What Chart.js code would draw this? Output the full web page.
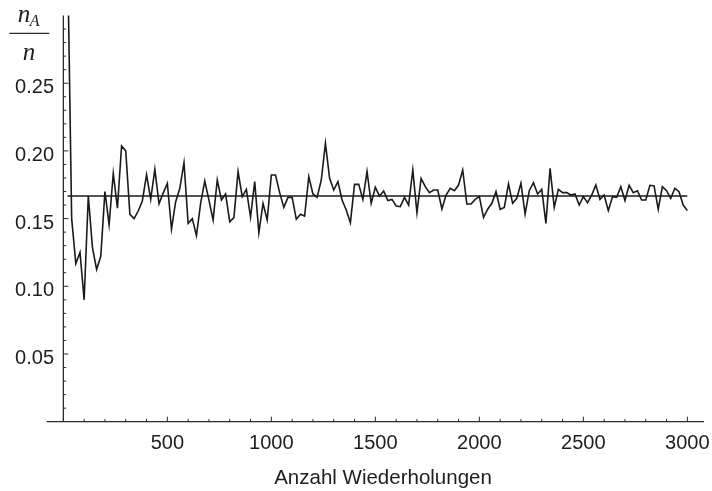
<!DOCTYPE html>
<html>
<head>
<meta charset="utf-8">
<script src="https://cdn.jsdelivr.net/npm/chart.js@4/dist/chart.umd.min.js"></script>
<style>
  html, body { margin: 0; padding: 0; background: #fff; }
  #wrap { width: 712px; height: 491px; }
</style>
</head>
<body>
<div id="wrap"><canvas id="c" width="712" height="491"></canvas></div>
<script>
// Number of repetitions (x categories)
const repetitions = [
  20,40,60,80,100,120,140,160,180,200,220,240,260,280,300,320,340,360,380,400,
  420,440,460,480,500,520,540,560,580,600,620,640,660,680,700,720,740,760,780,800,
  820,840,860,880,900,920,940,960,980,1000,1020,1040,1060,1080,1100,1120,1140,1160,1180,1200,
  1220,1240,1260,1280,1300,1320,1340,1360,1380,1400,1420,1440,1460,1480,1500,1520,1540,1560,1580,1600,
  1620,1640,1660,1680,1700,1720,1740,1760,1780,1800,1820,1840,1860,1880,1900,1920,1940,1960,1980,2000,
  2020,2040,2060,2080,2100,2120,2140,2160,2180,2200,2220,2240,2260,2280,2300,2320,2340,2360,2380,2400,
  2420,2440,2460,2480,2500,2520,2540,2560,2580,2600,2620,2640,2660,2680,2700,2720,2740,2760,2780,2800,
  2820,2840,2860,2880,2900,2920,2940,2960,2980,3000
];
// Relative frequency n_A / n
const relFrequency = [
  0.35,0.150,0.1167,0.125,0.090,0.1667,0.1286,0.1125,0.1222,0.170,
  0.1455,0.1833,0.1577,0.2036,0.200,0.1531,0.150,0.1556,0.1632,0.1825,
  0.1643,0.1864,0.1609,0.1688,0.176,0.1423,0.1625,0.1724,0.1913,0.1465,
  0.150,0.1374,0.1613,0.1778,0.1637,0.149,0.1785,0.1637,0.1682,0.1477,
  0.1507,0.1847,0.1662,0.1716,0.151,0.1773,0.1396,0.1613,0.149,0.1822,
  0.1822,0.1692,0.1583,0.1657,0.1657,0.1495,0.1532,0.1519,0.181,0.1682,
  0.1657,0.1785,0.2056,0.1797,0.1711,0.1773,0.1637,0.1564,0.147,0.1753,
  0.1753,0.1642,0.1847,0.1613,0.1731,0.1667,0.1704,0.1633,0.1642,0.1593,
  0.1588,0.1657,0.160,0.1859,0.1544,0.1797,0.1736,0.1692,0.1711,0.1711,
  0.1571,0.1674,0.1724,0.1706,0.1748,0.1859,0.1608,0.1608,0.1642,0.1662,
  0.1509,0.1569,0.1613,0.1699,0.1569,0.1583,0.1756,0.1613,0.165,0.1761,
  0.1534,0.1706,0.1765,0.1682,0.1716,0.1465,0.1871,0.1583,0.1716,0.1692,
  0.1692,0.1674,0.1682,0.160,0.1662,0.1618,0.1674,0.1748,0.1642,0.1674,
  0.1559,0.1662,0.1657,0.1736,0.1633,0.1746,0.1692,0.1706,0.1637,0.1637,
  0.1746,0.1741,0.1569,0.1736,0.1706,0.165,0.1724,0.1699,0.160,0.1559
];
// Theoretical probability line
const theoryX = [20, 3000];
const theoryY = [1/6, 1/6];

const xTickValues = [500, 1000, 1500, 2000, 2500, 3000];
const xTickLabels = ['500', '1000', '1500', '2000', '2500', '3000'];
const yTickValues = [0.05, 0.10, 0.15, 0.20, 0.25];
const yTickLabels = ['0.05', '0.10', '0.15', '0.20', '0.25'];
const xTitle = 'Anzahl Wiederholungen';

const axesPlugin = {
  id: 'mathAxes',
  beforeDatasetsDraw(chart) {
    const { ctx, chartArea: a, scales: { x, y } } = chart;
    const x0 = x.getPixelForValue(0);
    const y0 = y.getPixelForValue(0);
    const seg = (x1, y1, x2, y2) => { ctx.beginPath(); ctx.moveTo(x1, y1); ctx.lineTo(x2, y2); ctx.stroke(); };
    ctx.save();
    ctx.strokeStyle = '#2a2a2a';
    ctx.lineWidth = 1.3;
    seg(a.left, y0, a.right, y0);
    seg(x0, a.top, x0, y0);
    ctx.lineWidth = 1;
    for (let v = 100; v <= 3000; v += 100) {
      const px = x.getPixelForValue(v);
      const len = v % 500 === 0 ? 5 : 2.8;
      seg(px, y0, px, y0 - len);
    }
    for (let i = 1; i < 30; i++) {
      const py = y.getPixelForValue(i / 100);
      const len = i % 5 === 0 ? 5 : 2.8;
      seg(x0, py, x0 + len, py);
    }
    ctx.fillStyle = '#1e1e1e';
    ctx.font = '20px "Liberation Sans", Arial, sans-serif';
    ctx.textAlign = 'center';
    ctx.textBaseline = 'alphabetic';
    xTickValues.forEach((v, i) => ctx.fillText(xTickLabels[i], x.getPixelForValue(v), y0 + 27.6));
    ctx.textAlign = 'right';
    yTickValues.forEach((v, i) => ctx.fillText(yTickLabels[i], x0 - 9.3, y.getPixelForValue(v) + 10));
    ctx.textAlign = 'center';
    ctx.font = '20.5px "Liberation Sans", Arial, sans-serif';
    ctx.fillText(xTitle, 383, 484);
    // y label: n_A / n
    ctx.font = 'italic 25px "Liberation Serif", serif';
    const wn = ctx.measureText('n').width;
    ctx.font = 'italic 16px "Liberation Serif", serif';
    const wa = ctx.measureText('A').width;
    const cx = 29;
    const startX = cx - (wn + wa) / 2;
    ctx.textAlign = 'left';
    ctx.font = 'italic 25px "Liberation Serif", serif';
    ctx.fillText('n', startX, 22);
    ctx.font = 'italic 16px "Liberation Serif", serif';
    ctx.fillText('A', startX + wn - 0.5, 25.5);
    ctx.lineWidth = 1.3;
    seg(9.3, 33.3, 49.3, 33.3);
    ctx.textAlign = 'center';
    ctx.font = 'italic 25px "Liberation Serif", serif';
    ctx.fillText('n', cx, 59.5);
    ctx.restore();
  }
};

new Chart(document.getElementById('c'), {
  type: 'line',
  data: {
    datasets: [
      {
        data: repetitions.map((n, i) => ({ x: n, y: relFrequency[i] })),
        borderColor: '#1a1a1a',
        borderWidth: 1.6,
        pointRadius: 0,
        tension: 0,
        fill: false
      },
      {
        data: theoryX.map((n, i) => ({ x: n, y: theoryY[i] })),
        borderColor: '#1a1a1a',
        borderWidth: 1.5,
        pointRadius: 0,
        tension: 0,
        fill: false
      }
    ]
  },
  options: {
    responsive: false,
    animation: false,
    events: [],
    layout: { padding: { left: 46.7, right: 8, top: 15.5, bottom: 69.3 } },
    scales: {
      x: { type: 'linear', min: -80, max: 3080, display: false },
      y: { type: 'linear', min: 0, max: 0.30, display: false }
    },
    plugins: { legend: { display: false }, tooltip: { enabled: false } }
  },
  plugins: [axesPlugin]
});
</script>
</body>
</html>
